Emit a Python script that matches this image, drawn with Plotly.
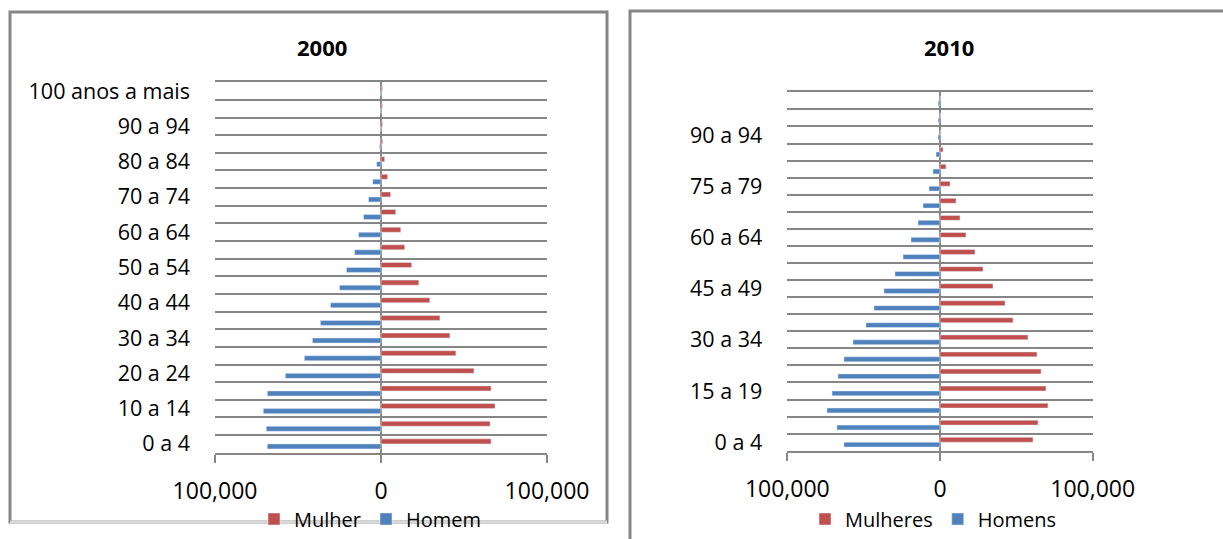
import plotly.graph_objects as go

# Age groups (bottom to top of each pyramid)
categories = [
    "0 a 4", "5 a 9", "10 a 14", "15 a 19", "20 a 24", "25 a 29", "30 a 34",
    "35 a 39", "40 a 44", "45 a 49", "50 a 54", "55 a 59", "60 a 64",
    "65 a 69", "70 a 74", "75 a 79", "80 a 84", "85 a 89", "90 a 94",
    "95 a 99", "100 anos a mais",
]

# Population by sex, 2000
mulher_2000 = [66300, 65700, 68700, 66300, 56000, 45100, 41500, 35500, 29400,
               22800, 18500, 14300, 11900, 8900, 5800, 4000, 2200, 1000, 900,
               800, 800]
homem_2000 = [68500, 69100, 70900, 68500, 57600, 46200, 41300, 36500, 30400,
              25000, 20800, 15900, 13500, 10500, 7500, 5000, 2600, 800, 200,
              100, 50]

# Population by sex, 2010
mulheres_2010 = [60900, 64200, 70700, 69400, 66200, 63500, 57600, 47800, 42600,
                 34700, 28200, 22900, 17000, 13100, 10500, 6600, 3900, 2000,
                 400, 300, 200]
homens_2010 = [62900, 67500, 74000, 70700, 66800, 62900, 57000, 48500, 43200,
               36700, 29500, 24200, 19000, 14400, 11100, 7200, 4600, 2600,
               1300, 1200, 1200]

x_ticks = [-100000, 0, 100000]
x_ticktext = ["100,000", "0", "100,000"]

W, H = 1223, 539
RED = "#C0504D"
BLUE = "#4F81BD"
GRAY = "#868686"
FONT = "Open Sans"


def fx(px):
    return px / W


def fy(py):
    return 1 - py / H


idx = list(range(len(categories)))

fig = go.Figure()

# 2000 pyramid
fig.add_trace(go.Bar(y=idx, x=[-v for v in homem_2000], orientation="h",
                     name="Homem", marker_color=BLUE, legend="legend",
                     legendrank=2, xaxis="x", yaxis="y",
                     customdata=homem_2000,
                     hovertemplate="%{customdata:,}<extra>Homem</extra>"))
fig.add_trace(go.Bar(y=idx, x=mulher_2000, orientation="h",
                     name="Mulher", marker_color=RED, legend="legend",
                     legendrank=1, xaxis="x", yaxis="y"))

# 2010 pyramid
fig.add_trace(go.Bar(y=idx, x=[-v for v in homens_2010], orientation="h",
                     name="Homens", marker_color=BLUE, legend="legend2",
                     legendrank=2, xaxis="x2", yaxis="y2",
                     customdata=homens_2010,
                     hovertemplate="%{customdata:,}<extra>Homens</extra>"))
fig.add_trace(go.Bar(y=idx, x=mulheres_2010, orientation="h",
                     name="Mulheres", marker_color=RED, legend="legend2",
                     legendrank=1, xaxis="x2", yaxis="y2"))

xaxis_common = dict(
    range=[-100000, 100000], tickmode="array", tickvals=x_ticks,
    ticktext=x_ticktext, showgrid=False, zeroline=True, zerolinecolor=GRAY,
    zerolinewidth=2, showline=True, mirror=True, linecolor=GRAY, linewidth=2,
    ticks="outside", ticklen=8, tickwidth=2, tickcolor=GRAY,
    tickfont=dict(family=FONT, size=23, color="#000000"),
    ticklabelstandoff=9, fixedrange=True, automargin=False,
)

boundaries = [i - 0.5 for i in range(len(categories) + 1)]
yaxis_common = dict(
    range=[-0.5, len(categories) - 0.5], tickmode="array", showgrid=False,
    zeroline=False, showline=False, ticks="",
    tickfont=dict(family=FONT, size=21.5, color="#000000"),
    ticklabelstandoff=24, fixedrange=True, automargin=False,
    minor=dict(tickmode="array", tickvals=boundaries, showgrid=True,
               gridcolor=GRAY, gridwidth=2, ticks=""),
)

legend_font = dict(family=FONT, size=20, color="#000000")

fig.update_layout(
    width=W, height=H,
    margin=dict(l=0, r=0, t=0, b=0, autoexpand=False),
    paper_bgcolor="white", plot_bgcolor="white",
    barmode="group", bargap=0.43, bargroupgap=0,
    font=dict(family=FONT, color="#000000"),
    xaxis=dict(domain=[fx(215), fx(547)], anchor="y", **xaxis_common),
    yaxis=dict(domain=[fy(452.7), fy(82.3)], anchor="x",
               tickvals=idx[::2], ticktext=categories[::2], **yaxis_common),
    xaxis2=dict(domain=[fx(787.3), fx(1092.7)], anchor="y2", **xaxis_common),
    yaxis2=dict(domain=[fy(450.7), fy(92.3)], anchor="x2",
                tickvals=idx[::3], ticktext=categories[::3], **yaxis_common),
    legend=dict(orientation="h", x=fx(254), y=fy(519), xanchor="left",
                yanchor="middle", font=legend_font,
                bgcolor="rgba(0,0,0,0)"),
    legend2=dict(orientation="h", x=fx(805), y=fy(519), xanchor="left",
                 yanchor="middle", font=legend_font,
                 bgcolor="rgba(0,0,0,0)"),
    annotations=[
        dict(text="<b>2000</b>", x=fx(322), y=fy(47), xref="paper",
             yref="paper", showarrow=False, xanchor="center",
             yanchor="middle", font=dict(family=FONT, size=22)),
        dict(text="<b>2010</b>", x=fx(949), y=fy(47), xref="paper",
             yref="paper", showarrow=False, xanchor="center",
             yanchor="middle", font=dict(family=FONT, size=22)),
    ],
    shapes=[
        # chart area frames
        dict(type="rect", xref="paper", yref="paper",
             x0=fx(10), x1=fx(607), y0=fy(522), y1=fy(12),
             line=dict(color=GRAY, width=3), layer="below"),
        dict(type="line", xref="paper", yref="paper",
             x0=fx(10), x1=fx(607), y0=fy(522), y1=fy(522),
             line=dict(color="#d9d9d9", width=3)),
        dict(type="rect", xref="paper", yref="paper",
             x0=fx(630), x1=fx(1240), y0=fy(560), y1=fy(11),
             line=dict(color=GRAY, width=3), layer="below"),
    ],
)

fig.write_html("out.html")
